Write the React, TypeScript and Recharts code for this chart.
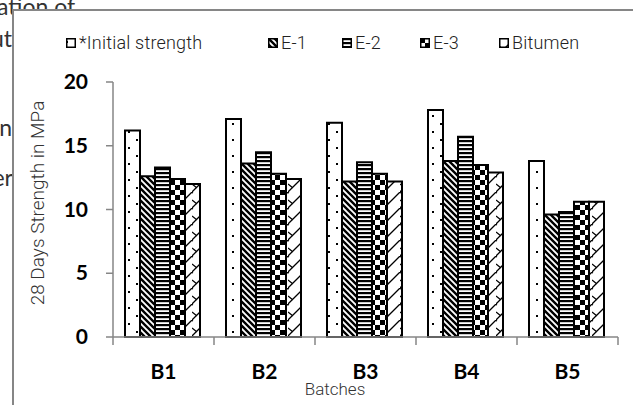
import React from "react";
import { BarChart, Bar, XAxis, YAxis } from "recharts";

// 28-day compressive strength (MPa) per batch
const batches = ["B1", "B2", "B3", "B4", "B5"];
const initialStrength = [16.2, 17.1, 16.8, 17.8, 13.8];
const e1 = [12.6, 13.6, 12.2, 13.8, 9.6];
const e2 = [13.3, 14.5, 13.7, 15.7, 9.8];
const e3 = [12.4, 12.8, 12.8, 13.5, 10.6];
const bitumen = [12.0, 12.4, 12.2, 12.9, 10.6];
const yTicks = [0, 5, 10, 15, 20];

const data = batches.map((b, i) => ({
  batch: b,
  initial: initialStrength[i],
  e1: e1[i],
  e2: e2[i],
  e3: e3[i],
  bitumen: bitumen[i],
}));

const series = [
  { key: "initial", name: "*Initial strength", fill: "url(#pDots)", left: 66 },
  { key: "e1", name: "E-1", fill: "url(#pDiag)", left: 268 },
  { key: "e2", name: "E-2", fill: "url(#pHoriz)", left: 342 },
  { key: "e3", name: "E-3", fill: "url(#pCheck)", left: 420 },
  { key: "bitumen", name: "Bitumen", fill: "url(#pZig)", left: 499 },
];

const AXIS = "#868686";
const LIGHT = "Roboto, 'Liberation Sans Narrow', sans-serif";
const BOLD = "Lato, 'Open Sans', sans-serif";

function Patterns() {
  return (
    <defs>
      <pattern id="pDots" width={16} height={16} patternUnits="userSpaceOnUse">
        <rect width={16} height={16} fill="#fff" />
        <rect x={0} y={3} width={2} height={2} fill="#000" />
        <rect x={8} y={11} width={2} height={2} fill="#000" />
      </pattern>
      <pattern id="pDiag" width={6} height={6} patternUnits="userSpaceOnUse">
        <rect width={6} height={6} fill="#fff" />
        <path d="M-1,-1 L7,7 M-1,5 L1,7 M5,-1 L7,1" stroke="#000" strokeWidth={2.4} />
      </pattern>
      <pattern id="pHoriz" width={4} height={4} patternUnits="userSpaceOnUse">
        <rect width={4} height={4} fill="#fff" />
        <rect y={0} width={4} height={2.2} fill="#000" />
      </pattern>
      <pattern id="pCheck" width={10} height={10} patternUnits="userSpaceOnUse">
        <rect width={10} height={10} fill="#fff" />
        <rect width={5} height={5} fill="#000" />
        <rect x={5} y={5} width={5} height={5} fill="#000" />
      </pattern>
      <pattern id="pZig" width={16} height={16} patternUnits="userSpaceOnUse">
        <rect width={16} height={16} fill="#fff" />
        <path d="M0,16 L16,0 M0,8 L5,12 M-1,0 L1,1" stroke="#000" strokeWidth={1.3} fill="none" />
      </pattern>
    </defs>
  );
}

// category label plus tick marks on the band edges instead of the band centre
function BatchTick(props: any) {
  const { x, y, payload, index, visibleTicksCount, width } = props;
  const half =
    payload && typeof payload.offset === "number" && payload.offset > 0
      ? payload.offset
      : width / visibleTicksCount / 2;
  const top = y - 22;
  const last = index === visibleTicksCount - 1;
  return (
    <g>
      <line x1={x - half} x2={x - half} y1={top} y2={top + 8} stroke={AXIS} strokeWidth={1.5} />
      {last && (
        <line x1={x + half} x2={x + half} y1={top} y2={top + 8} stroke={AXIS} strokeWidth={1.5} />
      )}
      <text
        x={x}
        y={y + 20}
        textAnchor="middle"
        fontFamily={BOLD}
        fontWeight={700}
        fontSize={21}
        fill="#000"
      >
        {payload.value}
      </text>
    </g>
  );
}

function StrengthTick(props: any) {
  const { x, y, payload } = props;
  return (
    <text
      x={x}
      y={y + 7}
      textAnchor="end"
      fontFamily={BOLD}
      fontWeight={700}
      fontSize={21}
      fill="#000"
    >
      {payload.value}
    </text>
  );
}

function LegendSwatch({ fill }: { fill: string }) {
  return (
    <svg width={10} height={10} style={{ display: "block" }}>
      <rect x={0.75} y={0.75} width={8.5} height={8.5} fill={fill} stroke="#000" strokeWidth={1.5} />
    </svg>
  );
}

export default function App() {
  return (
    <div
      style={{
        position: "absolute",
        left: 0,
        top: 0,
        width: 633,
        height: 405,
        overflow: "hidden",
        background: "#fff",
      }}
    >
      {/* running text of the page behind the figure */}
      <svg width={633} height={405} style={{ position: "absolute", left: 0, top: 0 }}>
        <g fontFamily={BOLD} fontSize={23} fill="#333">
          <text x={-3} y={15}>ation of</text>
          <text x={12} y={47} textAnchor="end">ut</text>
          <text x={12} y={136} textAnchor="end">n</text>
          <text x={13} y={186} textAnchor="end">er</text>
        </g>
      </svg>

      {/* figure frame */}
      <div
        style={{
          position: "absolute",
          left: 12,
          top: 9,
          width: 640,
          height: 420,
          background: "#fff",
          borderTop: `2px solid ${AXIS}`,
          borderLeft: `2px solid ${AXIS}`,
        }}
      />

      <div style={{ position: "absolute", left: 0, top: 0 }}>
        <BarChart
          width={633}
          height={405}
          data={data}
          margin={{ top: 82, right: 15, left: 53, bottom: 18 }}
          barCategoryGap={12}
          barGap={0}
        >
          <Patterns />
          <XAxis
            dataKey="batch"
            height={50}
            axisLine={{ stroke: AXIS, strokeWidth: 1.5 }}
            tickLine={false}
            tickSize={0}
            tickMargin={22}
            tick={<BatchTick />}
          />
          <YAxis
            width={60}
            domain={[0, 20]}
            ticks={yTicks}
            tickSize={7}
            tickMargin={18}
            axisLine={{ stroke: AXIS, strokeWidth: 1.5 }}
            tickLine={{ stroke: AXIS, strokeWidth: 1.5 }}
            tick={<StrengthTick />}
          />
          {series.map((s) => (
            <Bar
              key={s.key}
              dataKey={s.key}
              name={s.name}
              fill={s.fill}
              stroke="#000"
              strokeWidth={2}
              isAnimationActive={false}
            />
          ))}
        </BarChart>
      </div>

      {/* legend */}
      {series.map((s) => (
        <div
          key={s.key}
          style={{
            position: "absolute",
            left: s.left,
            top: 32,
            display: "flex",
            alignItems: "center",
            gap: 3,
            fontFamily: LIGHT,
            fontWeight: 300,
            fontSize: 18,
            letterSpacing: 0.2,
            color: "#222",
            whiteSpace: "nowrap",
          }}
        >
          <LegendSwatch fill={s.fill} />
          <span>{s.name}</span>
        </div>
      ))}

      {/* axis titles */}
      <div
        style={{
          position: "absolute",
          left: 37,
          top: 203,
          transform: "translate(-50%, -50%) rotate(-90deg)",
          fontFamily: LIGHT,
          fontWeight: 300,
          fontSize: 19,
          color: "#333",
          whiteSpace: "nowrap",
        }}
      >
        28 Days Strength in MPa
      </div>
      <div
        style={{
          position: "absolute",
          left: 335,
          top: 389,
          transform: "translate(-50%, -50%)",
          fontFamily: LIGHT,
          fontWeight: 300,
          fontSize: 17,
          color: "#333",
          whiteSpace: "nowrap",
        }}
      >
        Batches
      </div>
    </div>
  );
}
